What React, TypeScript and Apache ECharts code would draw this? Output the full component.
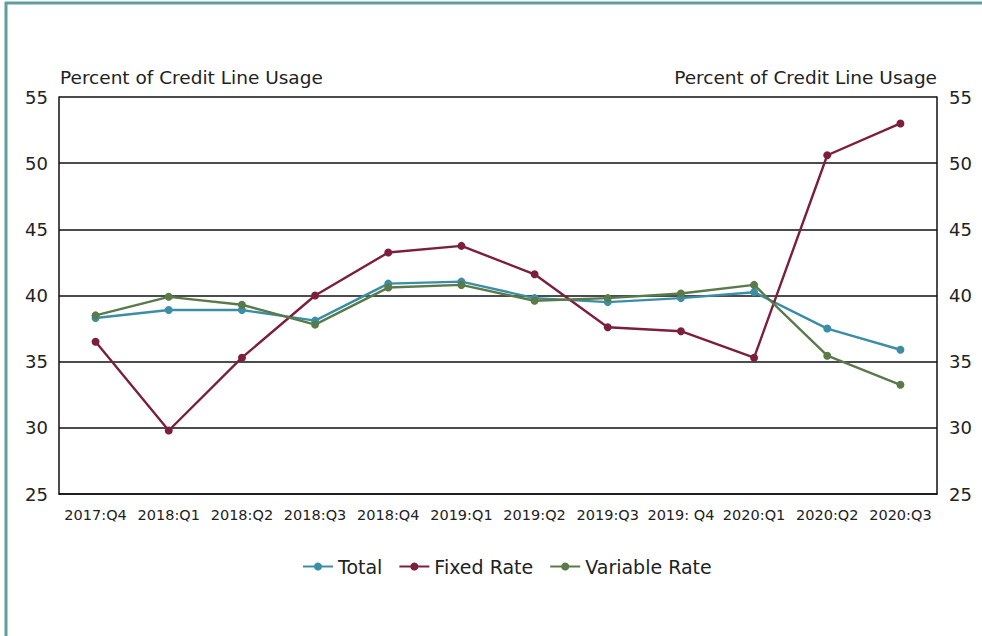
import React, { useEffect, useRef } from "react";
import * as echarts from "echarts";

const categories = ["2017:Q4", "2018:Q1", "2018:Q2", "2018:Q3", "2018:Q4", "2019:Q1", "2019:Q2", "2019:Q3", "2019: Q4", "2020:Q1", "2020:Q2", "2020:Q3"];
const totalValues = [38.3, 38.9, 38.9, 38.1, 40.9, 41.05, 39.8, 39.5, 39.8, 40.25, 37.5, 35.9];
const fixedValues = [36.5, 29.8, 35.3, 40.0, 43.25, 43.75, 41.6, 37.6, 37.3, 35.3, 50.6, 53.0];
const variableValues = [38.5, 39.9, 39.3, 37.8, 40.6, 40.8, 39.6, 39.8, 40.15, 40.8, 35.45, 33.25];
const axisTitle = "Percent of Credit Line Usage";

const FONT = "DejaVu Sans";

export default function App() {
  const ref = useRef<HTMLDivElement>(null);
  useEffect(() => {
    if (!ref.current) return;
    const chart = echarts.init(ref.current, undefined, { renderer: "svg" });
    const mkSeries = (name: string, data: number[], color: string, yAxisIndex = 0) => ({
      name,
      type: "line",
      data,
      yAxisIndex,
      symbol: "circle",
      symbolSize: 8,
      itemStyle: { color },
      lineStyle: { color, width: 2.4 },
    });
    chart.setOption({
      animation: false,
      backgroundColor: "#ffffff",
      textStyle: { fontFamily: FONT },
      grid: { left: 59, right: 45, top: 97, bottom: 142, containLabel: false },
      legend: {
        data: ["Total", "Fixed Rate", "Variable Rate"],
        left: 297,
        top: 552,
        itemWidth: 30,
        itemHeight: 10,
        itemGap: 16,
        textStyle: { fontFamily: FONT, fontSize: 19, color: "#222" },
      },
      xAxis: {
        type: "category",
        data: categories,
        boundaryGap: true,
        axisLine: { lineStyle: { color: "#111", width: 1.5 } },
        axisTick: { show: false },
        axisLabel: { color: "#222", fontSize: 14.5, margin: 13, fontFamily: FONT, interval: 0 },
      },
      yAxis: [
        {
          type: "value",
          min: 25,
          max: 55,
          interval: 5,
          position: "left",
          axisLine: { show: true, lineStyle: { color: "#111", width: 1.5 } },
          axisTick: { show: false },
          splitLine: { show: true, lineStyle: { color: "#111", width: 1.5 } },
          axisLabel: { color: "#222", fontSize: 18, margin: 11, fontFamily: FONT },
        },
        {
          type: "value",
          min: 25,
          max: 55,
          interval: 5,
          position: "right",
          axisLine: { show: true, lineStyle: { color: "#111", width: 1.5 } },
          axisTick: { show: false },
          splitLine: { show: false },
          axisLabel: { color: "#222", fontSize: 18, margin: 12, fontFamily: FONT },
        },
      ],
      graphic: [
        { type: "line", shape: { x1: 5, y1: 3, x2: 982, y2: 3 }, style: { stroke: "#5e9f9c", lineWidth: 3 } },
        { type: "line", shape: { x1: 6, y1: 2, x2: 6, y2: 636 }, style: { stroke: "#5e9f9c", lineWidth: 3 } },
        {
          type: "text",
          left: 60,
          top: 68,
          style: { text: axisTitle, fontSize: 18.5, fontFamily: FONT, fill: "#222" },
        },
        {
          type: "text",
          right: 45,
          top: 68,
          style: { text: axisTitle, fontSize: 18.5, fontFamily: FONT, fill: "#222" },
        },
      ],
      series: [
        mkSeries("Total", totalValues, "#3a8ea6"),
        mkSeries("Fixed Rate", fixedValues, "#7c1f3f"),
        mkSeries("Variable Rate", variableValues, "#5a7a4a"),
      ],
    });
    return () => chart.dispose();
  }, []);
  return (
    <div
      ref={ref}
      style={{ position: "fixed", left: 0, top: 0, width: 982, height: 636, background: "#fff" }}
    />
  );
}
